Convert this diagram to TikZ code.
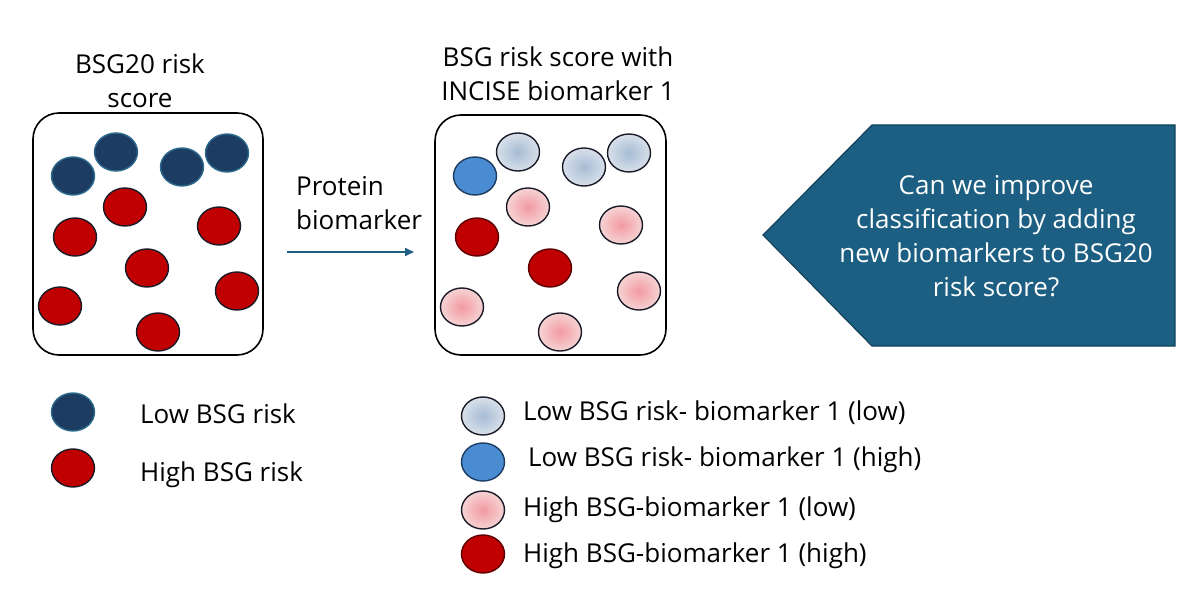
\documentclass[tikz,border=0pt]{standalone}
\usepackage{fontspec}
\setmainfont{Open Sans}
\usetikzlibrary{shapes.geometric,arrows.meta}
\definecolor{navy}{HTML}{1C3C62}
\definecolor{navyedge}{HTML}{2D6A8C}
\definecolor{bsgred}{HTML}{C00000}
\definecolor{darkedge}{HTML}{1A1A28}
\definecolor{midblue}{HTML}{4A8CD2}
\definecolor{lbin}{HTML}{A6BCD4}
\definecolor{lbout}{HTML}{D8E0EA}
\definecolor{pkin}{HTML}{F29AA2}
\definecolor{pkout}{HTML}{F6D3D4}
\definecolor{teal}{HTML}{1C5F82}
\definecolor{arrowcol}{HTML}{1F5F85}
\tikzset{
  dot/.style={ellipse, minimum width=43pt, minimum height=38pt, inner sep=0pt, line width=1.4pt},
  lowdot/.style={dot, fill=navy, draw=navyedge},
  highdot/.style={dot, fill=bsgred, draw=darkedge},
  lbdot/.style={dot, draw=darkedge, inner color=lbin, outer color=lbout},
  mbdot/.style={dot, fill=midblue, draw=navy},
  pkdot/.style={dot, draw=darkedge, inner color=pkin, outer color=pkout},
  drdot/.style={dot, fill=bsgred, draw=black!40!bsgred!80!black},
  panel/.style={draw=black, line width=1.6pt, rounded corners=26pt},
  txt/.style={font=\fontsize{26}{34}\selectfont, text=black, inner sep=0pt},
  legtxt/.style={txt, anchor=west},
}
\begin{document}
\begin{tikzpicture}[x=1pt,y=-1pt]
\useasboundingbox (0,0) rectangle (1200,604);
% titles
\node[txt, align=center] (t1) at (140,81) {BSG20 risk\\score};
\node[txt, align=center] (t2) at (558,74) {BSG risk score with\\INCISE biomarker 1};
% panels
\draw[panel] (33,113) rectangle (263,355);
\draw[panel] (435,115) rectangle (666,355);
% panel 1 dots
\node[lowdot] (a1) at (73,176) {};
\node[lowdot] (a2) at (116,152) {};
\node[lowdot] (a3) at (182,167) {};
\node[lowdot] (a4) at (227,153) {};
\node[highdot] (a5) at (125,207) {};
\node[highdot] (a6) at (75,237) {};
\node[highdot] (a7) at (219,226) {};
\node[highdot] (a8) at (147,268) {};
\node[highdot] (a9) at (60,306) {};
\node[highdot] (a10) at (237,291) {};
\node[highdot] (a11) at (158,332) {};
% panel 2 dots
\node[lbdot] (b1) at (518,152) {};
\node[lbdot] (b2) at (584,167) {};
\node[lbdot] (b3) at (629,153) {};
\node[mbdot] (b4) at (475,176) {};
\node[pkdot] (b5) at (528,207) {};
\node[pkdot] (b6) at (621,225) {};
\node[pkdot] (b7) at (462,307) {};
\node[pkdot] (b8) at (639,291) {};
\node[pkdot] (b9) at (560,332) {};
\node[drdot] (b10) at (477,237) {};
\node[drdot] (b11) at (550,268) {};
% arrow
\coordinate (as) at (287,252);
\coordinate (ae) at (414,252);
\draw[arrowcol, line width=1.6pt, -{Triangle[length=9pt,width=8pt]}] (as) -- (ae);
\node[txt, align=left, anchor=north west] (pb) at (296,176) {Protein\\biomarker};
% question pentagon
\draw[fill=teal, draw=black!30!teal, line width=1.2pt] (763,235) -- (872,125) -- (1175,125) -- (1175,346) -- (872,346) -- cycle;
\node[txt, text=white, align=center] (q) at (996,236) {Can we improve\\classification by adding\\new biomarkers to BSG20\\risk score?};
% left legend
\node[lowdot] (l1) at (73,412) {};
\node[legtxt] (l1t) at (140,414) {Low BSG risk};
\node[highdot] (l2) at (73,468) {};
\node[legtxt] (l2t) at (140,475) {High BSG risk};
% right legend
\node[lbdot] (r1) at (483,416) {};
\node[legtxt] (r1t) at (523,413) {Low BSG risk- biomarker 1 (low)};
\node[mbdot] (r2) at (483,462) {};
\node[legtxt] (r2t) at (528,460) {Low BSG risk- biomarker 1 (high)};
\node[pkdot] (r3) at (483,510) {};
\node[legtxt] (r3t) at (523,510) {High BSG-biomarker 1 (low)};
\node[drdot] (r4) at (483,554) {};
\node[legtxt] (r4t) at (523,556) {High BSG-biomarker 1 (high)};
\end{tikzpicture}
\end{document}
